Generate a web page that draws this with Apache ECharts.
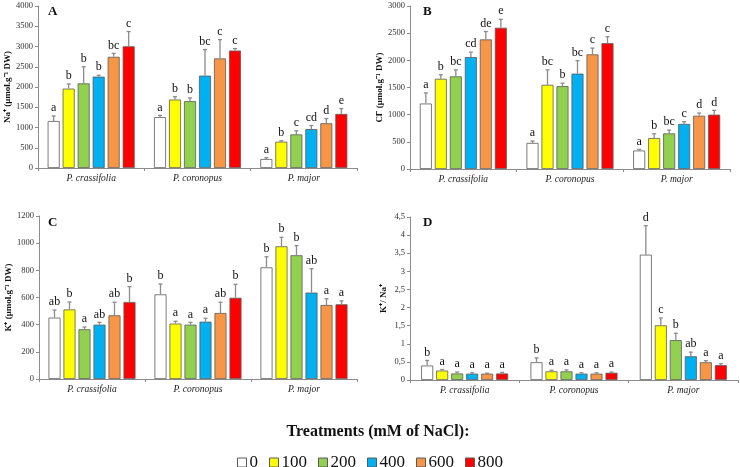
<!DOCTYPE html>
<html>
<head>
<meta charset="utf-8">
<script src="https://cdn.jsdelivr.net/npm/echarts@6/dist/echarts.min.js"></script>
<style>html,body{margin:0;padding:0;background:#fff}#c{width:740px;height:467px}</style>
</head>
<body>
<div id="c"></div>
<script>
// ---- data ----
const categories = ['P. crassifolia', 'P. coronopus', 'P. major'];
const treatments = ['0', '100', '200', '400', '600', '800'];

// rows: species (crassifolia, coronopus, major); cols: treatments
const naMean = [[1160, 1960, 2090, 2255, 2745, 3005], [1255, 1690, 1650, 2280, 2705, 2900], [222, 650, 830, 960, 1105, 1335]];
const naErr = [[125, 115, 410, 35, 85, 365], [45, 70, 80, 645, 465, 50], [32, 23, 89, 89, 116, 132]];
const naLetters = [['a', 'b', 'b', 'b', 'bc', 'c'], ['a', 'b', 'b', 'bc', 'c', 'c'], ['a', 'b', 'c', 'cd', 'd', 'e']];

const clMean = [[1205, 1660, 1705, 2060, 2385, 2600], [480, 1550, 1525, 1755, 2110, 2315], [340, 570, 655, 830, 980, 1000]];
const clErr = [[195, 75, 120, 90, 145, 155], [35, 275, 55, 240, 115, 120], [20, 78, 61, 41, 50, 79]];
const clLetters = [['a', 'b', 'bc', 'cd', 'de', 'e'], ['a', 'bc', 'b', 'bc', 'c', 'c'], ['a', 'b', 'bc', 'c', 'd', 'd']];

const kMean = [[452, 512, 366, 400, 469, 567], [623, 408, 400, 422, 486, 598], [822, 977, 911, 636, 545, 550]];
const kErr = [[56, 55, 17, 17, 96, 113], [76, 17, 17, 25, 79, 99], [78, 66, 71, 176, 46, 25]];
const kLetters = [['ab', 'b', 'a', 'ab', 'ab', 'b'], ['b', 'a', 'a', 'a', 'ab', 'b'], ['b', 'b', 'b', 'ab', 'a', 'a']];

const ratioMean = [[0.40, 0.26, 0.18, 0.175, 0.175, 0.18], [0.49, 0.24, 0.24, 0.175, 0.175, 0.20], [3.46, 1.51, 1.10, 0.655, 0.49, 0.41]];
const ratioErr = [[0.14, 0.03, 0.04, 0.025, 0.015, 0.03], [0.12, 0.03, 0.04, 0.025, 0.025, 0.02], [0.80, 0.20, 0.19, 0.115, 0.045, 0.04]];
const ratioLetters = [['b', 'a', 'a', 'a', 'a', 'a'], ['b', 'a', 'a', 'a', 'a', 'a'], ['d', 'c', 'b', 'ab', 'a', 'a']];

const yMaxes = [4000, 3000, 1200, 4.5];
const yIntervals = [500, 500, 200, 0.5];
const yNames = ['Na⁺ (µmol.g⁻¹ DW)', 'Cl⁻ (µmol.g⁻¹ DW)', 'K⁺ (µmol.g⁻¹ DW)', 'K⁺/ Na⁺'];
const panelLetters = ['A', 'B', 'C', 'D'];
const legendTitle = 'Treatments (mM of NaCl):';

// ---- styles / layout ----
const FONT = 'Liberation Serif';
const colors = ['#ffffff', '#ffff00', '#92d050', '#00b0f0', '#f79646', '#ff0000'];
const grids = [
  { left: 38, top: 6, width: 319, height: 162 },
  { left: 410, top: 6, width: 320, height: 163 },
  { left: 39, top: 216, width: 318, height: 163 },
  { left: 410, top: 217, width: 328, height: 163 }
];
const nameGaps = [23, 22, 22, 22];
const letterPos = [[48, 12], [423, 12], [48, 223], [423, 223]];
const BAR_W = 12, BAR_GAP = 3;

const panels = [
  { mean: naMean, err: naErr, letters: naLetters },
  { mean: clMean, err: clErr, letters: clLetters },
  { mean: kMean, err: kErr, letters: kLetters },
  { mean: ratioMean, err: ratioErr, letters: ratioLetters }
];

const xAxes = [], yAxes = [], series = [], graphics = [];
panels.forEach((p, g) => {
  xAxes.push({
    type: 'category', gridIndex: g, data: categories,
    axisLine: { lineStyle: { color: '#8c8c8c', width: 1 } },
    axisTick: { show: true, length: 3, lineStyle: { color: '#8c8c8c' } },
    axisLabel: { fontFamily: FONT, fontStyle: 'italic', fontSize: 9.5, color: '#222', margin: 5 }
  });
  yAxes.push({
    type: 'value', gridIndex: g, min: 0, max: yMaxes[g], interval: yIntervals[g],
    splitLine: { show: false },
    axisLine: { show: true, lineStyle: { color: '#8c8c8c', width: 1 } },
    axisTick: { show: true, length: 3, lineStyle: { color: '#8c8c8c' } },
    axisLabel: {
      fontFamily: FONT, fontSize: 8.5, color: '#333', margin: 5,
      formatter: v => String(v).replace('.', ',')
    },
    name: yNames[g], nameLocation: 'middle', nameGap: nameGaps[g],
    nameTextStyle: { fontFamily: FONT, fontWeight: 'bold', fontSize: 9, color: '#111' }
  });
  treatments.forEach((t, j) => {
    series.push({
      type: 'bar', name: t, xAxisIndex: g, yAxisIndex: g,
      barWidth: BAR_W, barGap: (BAR_GAP / BAR_W * 100) + '%',
      data: categories.map((c, i) => p.mean[i][j]),
      itemStyle: { color: colors[j], borderColor: '#5a5a5a', borderWidth: 0.8 },
      emphasis: { disabled: true },
      silent: true
    });
  });
  const errData = [];
  const errLetters = [];
  categories.forEach((c, i) => {
    treatments.forEach((t, j) => {
      errData.push([i, j, p.mean[i][j], p.err[i][j]]);
      errLetters.push(p.letters[i][j]);
    });
  });
  series.push({
    type: 'custom', xAxisIndex: g, yAxisIndex: g, z: 5, silent: true,
    encode: { x: 0, y: 2 },
    data: errData,
    renderItem: function (params, api) {
      const ci = api.value(0), j = api.value(1), v = api.value(2), e = api.value(3);
      const base = api.coord([ci, v]);
      const top = api.coord([ci, v + e]);
      const total = 6 * BAR_W + 5 * BAR_GAP;
      const x = base[0] - total / 2 + j * (BAR_W + BAR_GAP) + BAR_W / 2;
      const ls = { stroke: '#8c8c8c', lineWidth: 1.3 };
      return {
        type: 'group',
        children: [
          { type: 'line', shape: { x1: x, y1: base[1], x2: x, y2: top[1] }, style: ls },
          { type: 'line', shape: { x1: x - 2, y1: top[1], x2: x + 2, y2: top[1] }, style: ls },
          {
            type: 'text',
            style: {
              text: errLetters[params.dataIndex], x: x, y: top[1] - 2,
              align: 'center', verticalAlign: 'bottom',
              fontFamily: FONT, fontSize: 12, fill: '#111'
            }
          }
        ]
      };
    }
  });
  graphics.push({
    type: 'text', left: letterPos[g][0], top: letterPos[g][1] - 7,
    style: { text: panelLetters[g], fontFamily: FONT, fontWeight: 'bold', fontSize: 13, fill: '#111' }
  });
});

graphics.push({
  type: 'text', x: 378, y: 432,
  style: { text: legendTitle, fontFamily: FONT, fontWeight: 'bold', fontSize: 16, fill: '#111', align: 'center', verticalAlign: 'middle' }
});

const chart = echarts.init(document.getElementById('c'), null, { renderer: 'canvas' });
chart.setOption({
  animation: false,
  backgroundColor: '#fff',
  grid: grids,
  xAxis: xAxes,
  yAxis: yAxes,
  series: series,
  graphic: graphics,
  legend: {
    data: treatments, left: 'center', top: 449,
    icon: 'rect', itemWidth: 9, itemHeight: 9, itemGap: 11,
    itemStyle: { borderColor: '#5a5a5a', borderWidth: 1 },
    textStyle: { fontFamily: FONT, fontSize: 17, color: '#111', padding: [0, 0, 0, -2] },
    selectedMode: false
  }
});
</script>
</body>
</html>
